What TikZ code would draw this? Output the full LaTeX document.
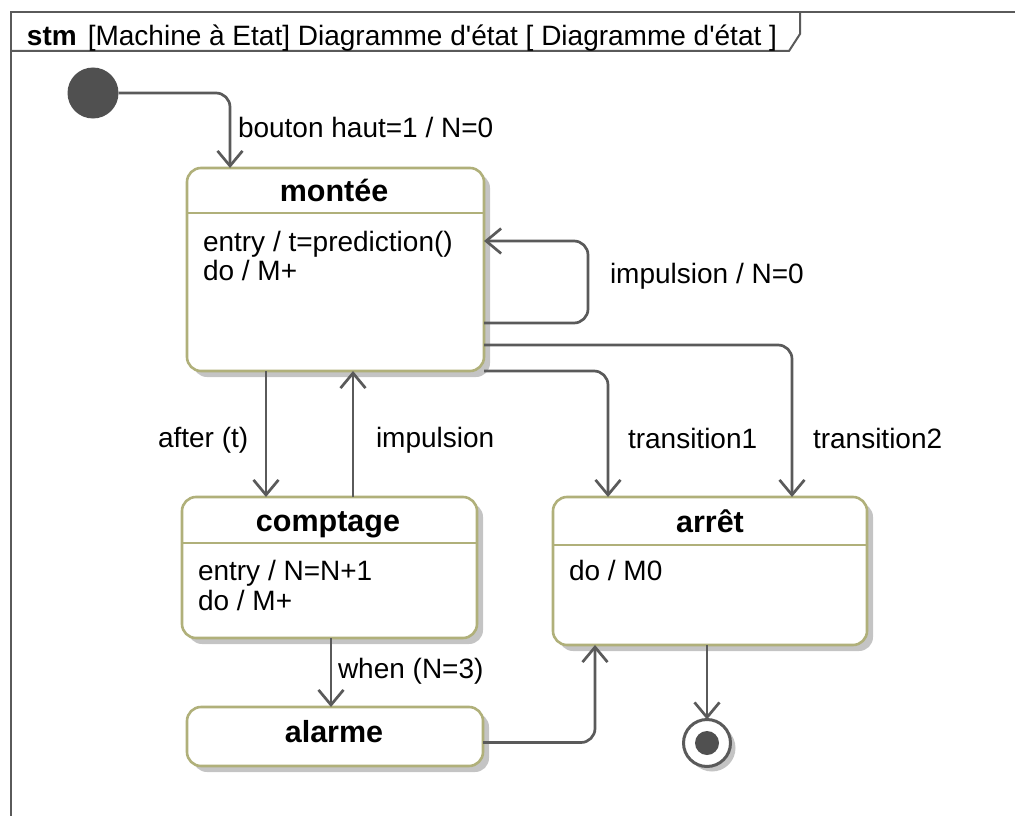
\documentclass[tikz,border=0pt]{standalone}
\usepackage{fontspec}
\setmainfont{Liberation Sans}
\usetikzlibrary{arrows.meta,shadows}

\definecolor{stateborder}{RGB}{176,176,122}
\definecolor{wire}{RGB}{90,90,90}
\definecolor{shade}{RGB}{196,196,196}
\definecolor{solid}{RGB}{80,80,80}

\begin{document}
\begin{tikzpicture}[x=1pt,y=-1pt,
  every node/.style={font=\fontsize{28}{33}\selectfont, inner sep=0pt, outer sep=0pt},
  umlstate/.style={draw=stateborder, line width=2.6pt, fill=white, rounded corners=14pt,
    drop shadow={shadow xshift=6pt, shadow yshift=-6pt, fill=shade, opacity=1}},
  compart/.style={draw=stateborder, line width=2.6pt},
  statename/.style={anchor=base, font=\fontsize{30.5}{36}\selectfont\bfseries},
  body/.style={anchor=base west},
  lbl/.style={anchor=base west},
  trans/.style={draw=wire, line width=2.7pt, rounded corners=14pt,
    -{Straight Barb[length=15pt,width=25pt]}},
  framewire/.style={draw=wire, line width=2pt},
]
\useasboundingbox (0,0) rectangle (1015,816);

% diagram frame and its name tab
\draw[framewire] (11,816) -- (11,12) -- (1015,12);
\draw[framewire] (11,51) -- (789,51) -- (800,34) -- (800,12);
\node[anchor=base west] (title) at (27,46)
  {\textbf{stm}\hspace{11pt}[Machine à Etat] Diagramme d\textquotesingle état [ Diagramme d\textquotesingle état ]};

% pseudo states
\node[circle, fill=solid, minimum size=51pt] (init) at (93,93) {};
\node[circle, draw=wire, line width=3pt, fill=white, minimum size=47pt,
  drop shadow={shadow xshift=5pt, shadow yshift=-5pt, fill=shade, opacity=1}] (final) at (707,743) {};
\node[circle, fill=solid, minimum size=24pt] (finaldot) at (final) {};

% state: montée
\node[umlstate, minimum width=297pt, minimum height=203pt] (montee) at (335.5,269.5) {};
\draw[compart] ([yshift=-45pt]montee.north west) -- ([yshift=-45pt]montee.north east);
\node[statename] (montee-name) at (334,201) {montée};
\node[body] (montee-entry) at (203,251) {entry / t=prediction()};
\node[body] (montee-do) at (203,280) {do / M+};

% state: comptage
\node[umlstate, minimum width=295pt, minimum height=141pt] (comptage) at (329.5,567.5) {};
\draw[compart] ([yshift=-46pt]comptage.north west) -- ([yshift=-46pt]comptage.north east);
\node[statename] (comptage-name) at (328,531) {comptage};
\node[body] (comptage-entry) at (198,580) {entry / N=N+1};
\node[body] (comptage-do) at (198,610) {do / M+};

% state: arrêt
\node[umlstate, minimum width=314pt, minimum height=148pt] (arret) at (710,571) {};
\draw[compart] ([yshift=-48pt]arret.north west) -- ([yshift=-48pt]arret.north east);
\node[statename] (arret-name) at (710,532) {arrêt};
\node[body] (arret-do) at (569,580) {do / M0};

% state: alarme
\node[umlstate, minimum width=296pt, minimum height=59pt] (alarme) at (335,736.5) {};
\node[statename] (alarme-name) at (334,742) {alarme};

% transitions
\draw[trans] (init.east) -| ([xshift=43pt]montee.north west);
\draw[trans] ([yshift=48pt]montee.south east) -- ++(104,0) |- ([yshift=-73pt]montee.north east);
\draw[trans] ([xshift=79pt]montee.south west) -- ([xshift=84pt]comptage.north west);
\draw[trans] ([xshift=171pt]comptage.north west) -- ([xshift=166pt]montee.south west);
\draw[trans] (montee.south east) -| ([xshift=55pt]arret.north west);
\draw[trans] ([yshift=26pt]montee.south east) -| ([xshift=239pt]arret.north west);
\draw[trans] ([xshift=149pt]comptage.south west) -- ([xshift=144pt]alarme.north west);
\draw[trans] ([yshift=-6pt]alarme.east) -| ([xshift=42pt]arret.south west);
\draw[trans] ([xshift=154pt]arret.south west) -- (final.north);

% transition labels
\node[lbl] (l-init) at (238,137) {bouton haut=1 / N=0};
\node[lbl] (l-self) at (610,283) {impulsion / N=0};
\node[lbl] (l-after) at (158,447) {after (t)};
\node[lbl] (l-imp) at (376,447) {impulsion};
\node[lbl] (l-t1) at (628,448) {transition1};
\node[lbl] (l-t2) at (813,448) {transition2};
\node[lbl] (l-when) at (338,678) {when (N=3)};
\end{tikzpicture}
\end{document}
